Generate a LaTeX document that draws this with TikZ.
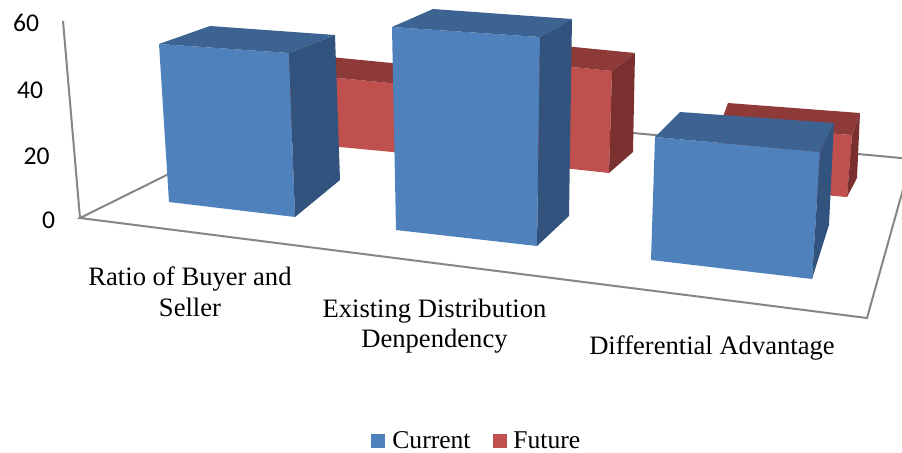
\documentclass[tikz,border=0pt]{standalone}
\usepackage{fontspec}
\setmainfont{Liberation Serif}
\newfontfamily\tickfont{Carlito}
\definecolor{bluefront}{RGB}{79,129,189}
\definecolor{bluetop}{RGB}{60,99,145}
\definecolor{blueside}{RGB}{50,83,125}
\definecolor{redfront}{RGB}{192,80,77}
\definecolor{redtop}{RGB}{142,58,56}
\definecolor{redside}{RGB}{122,48,46}
\definecolor{axisgray}{RGB}{134,134,134}
\begin{document}
\begin{tikzpicture}[x=0.5pt,y=-0.5pt,
  axisline/.style={draw=axisgray,line width=1pt,line join=miter},
  tick/.style={font=\tickfont\fontsize{12.8}{14}\selectfont,anchor=base,inner sep=0},
  catlabel/.style={font=\fontsize{13.3}{15}\selectfont,anchor=base,inner sep=0},
  legendtext/.style={font=\fontsize{12.8}{14}\selectfont,anchor=base west,inner sep=0},
  bfront/.style={fill=bluefront},
  btop/.style={fill=bluetop},
  bside/.style={fill=blueside},
  rfront/.style={fill=redfront},
  rtop/.style={fill=redtop},
  rside/.style={fill=redside}]
\useasboundingbox (0,0) rectangle (902,452);
\begin{scope}
\clip (0,0) rectangle (902,452);

% floor outline and value axis
\coordinate (fl) at (80,218);
\coordinate (fr) at (867,318);
\coordinate (br) at (911.5,159);
\coordinate (bl) at (312,103);
\coordinate (vtop) at (63,21);
\draw[axisline] (fl) -- (fr) -- (br) -- (bl) -- cycle;
\draw[axisline] (fl) -- (vtop);

% series "Future" (rear row)
\fill[rfront] (270,71.4) -- (400,84) -- (400,152.7) -- (270,140.4) -- cycle;
\fill[rtop] (270,71.4) -- (293,53.4) -- (423,66) -- (400,84) -- cycle;
\fill[rside] (400,84) -- (423,66) -- (423,135) -- (400,152.7) -- cycle;

\fill[rfront] (480,57.8) -- (612,71) -- (609,173) -- (480,159) -- cycle;
\fill[rtop] (480,57.8) -- (503,40) -- (635,53) -- (612,71) -- cycle;
\fill[rside] (612,71) -- (635,53) -- (633,152) -- (609,173) -- cycle;

\fill[rfront] (720,125) -- (852,135) -- (847,197) -- (718,186) -- cycle;
\fill[rtop] (720,125) -- (728,103) -- (860,113) -- (852,135) -- cycle;
\fill[rside] (852,135) -- (860,113) -- (857,178) -- (847,197) -- cycle;

% series "Current" (front row)
\fill[bfront] (159,44) -- (289,53) -- (295,217) -- (169,202) -- cycle;
\fill[btop] (159,44) -- (210,26) -- (335,35) -- (289,53) -- cycle;
\fill[bside] (289,53) -- (335,35) -- (340,180) -- (295,217) -- cycle;

\fill[bfront] (392,27) -- (540,37) -- (537,246) -- (396,230) -- cycle;
\fill[btop] (392,27) -- (433,9) -- (572,19) -- (540,37) -- cycle;
\fill[bside] (540,37) -- (572,19) -- (569,216) -- (537,246) -- cycle;

\fill[bfront] (655,137) -- (820,152) -- (812,279) -- (651,260) -- cycle;
\fill[btop] (655,137) -- (680,112) -- (834,123) -- (820,152) -- cycle;
\fill[bside] (820,152) -- (834,123) -- (829,225) -- (812,279) -- cycle;
\end{scope}

% value axis labels
\node[tick] (t60) at (26,31) {60};
\node[tick] (t40) at (30,98) {40};
\node[tick] (t20) at (36.5,164) {20};
\node[tick] (t0) at (48.5,228) {0};

% category labels
\node[catlabel] (c1a) at (190,285) {Ratio of Buyer and};
\node[catlabel] (c1b) at (190,316) {Seller};
\node[catlabel] (c2a) at (434.5,317) {Existing Distribution};
\node[catlabel] (c2b) at (434.5,347) {Denpendency};
\node[catlabel] (c3) at (712,354) {Differential Advantage};

% legend
\fill[bluefront] (371,434) rectangle (385,448);
\node[legendtext] (lcur) at (392,448) {Current};
\fill[redfront] (493,434) rectangle (507,448);
\node[legendtext] (lfut) at (513,448) {Future};
\end{tikzpicture}
\end{document}
